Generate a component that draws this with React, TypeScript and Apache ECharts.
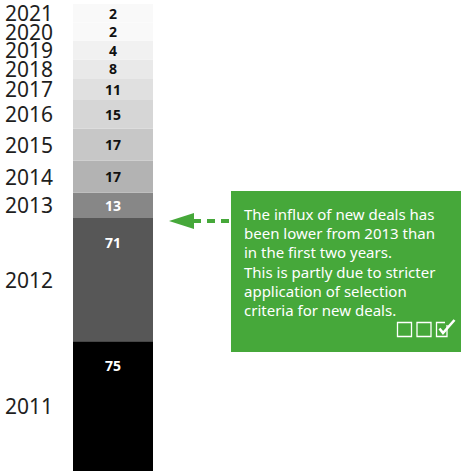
import React, { useEffect, useRef } from "react";
import * as echarts from "echarts";

// ---- data ----
const years = ["2011", "2012", "2013", "2014", "2015", "2016", "2017", "2018", "2019", "2020", "2021"];
const newDeals = [75, 71, 13, 17, 17, 15, 11, 8, 4, 2, 2];
const segmentColors = ["#000000", "#575757", "#878787", "#b3b3b3", "#c7c7c7", "#d6d6d6", "#e0e0e0", "#e9e9e9", "#f1f1f1", "#f9f9f9", "#f9f9f9"];
const valueLabelColors = ["#ffffff", "#ffffff", "#ffffff", "#111111", "#111111", "#111111", "#111111", "#111111", "#111111", "#111111", "#111111"];
const noteLines = [
  "The influx of new deals has",
  "been lower from 2013 than",
  "in the first two years.",
  "This is partly due to stricter",
  "application of selection",
  "criteria for new deals.",
];

// layout rule: every segment gets a little padding and a minimum visible size so its label fits
const SEGMENT_PAD = 2;
const MIN_SEGMENT = 11;
const GREEN = "#46a83a";

export default function App() {
  const ref = useRef<HTMLDivElement>(null);
  useEffect(() => {
    if (!ref.current) return;
    const chart = echarts.init(ref.current, null, { renderer: "svg" });
    let acc = 0;
    const rows = newDeals.map((v, i) => {
      const shown = Math.max(v + SEGMENT_PAD, MIN_SEGMENT);
      const row = [0, acc, acc + shown, v, i];
      acc += shown;
      return row;
    });
    const total = acc;

    const checkY = 322;
    const option: any = {
      animation: false,
      grid: { left: 73, top: 4, width: 80, bottom: 0, containLabel: false },
      xAxis: { type: "category", data: ["deals"], show: false },
      yAxis: { type: "value", min: 0, max: total, show: false },
      series: [
        {
          type: "custom",
          encode: { x: 0, y: [1, 2] },
          data: rows,
          renderItem: (params: any, api: any) => {
            const start = api.value(1);
            const end = api.value(2);
            const val = api.value(3);
            const idx = api.value(4);
            const p0 = api.coord([0, start]);
            const p1 = api.coord([0, end]);
            const bw = api.size([1, 0])[0];
            const x = p0[0] - bw / 2;
            const yTop = p1[1];
            const h = p0[1] - p1[1];
            const cy = yTop + h / 2;
            const valueY = h > 60 ? yTop + 24 : cy;
            return {
              type: "group",
              children: [
                {
                  type: "rect",
                  shape: { x, y: yTop, width: bw, height: h },
                  style: { fill: segmentColors[idx] },
                },
                {
                  type: "text",
                  style: {
                    text: String(val),
                    x: p0[0],
                    y: valueY,
                    align: "center",
                    verticalAlign: "middle",
                    fill: valueLabelColors[idx],
                    fontSize: 14,
                    fontWeight: "bold",
                    fontFamily: "Noto Sans",
                  },
                },
                {
                  type: "text",
                  style: {
                    text: years[idx],
                    x: 5,
                    y: cy,
                    align: "left",
                    verticalAlign: "middle",
                    fill: "#1e1e1e",
                    fontSize: 21,
                    fontFamily: "Noto Sans",
                  },
                },
              ],
            };
          },
        },
      ],
      graphic: [
        {
          type: "rect",
          shape: { x: 231, y: 191, width: 232, height: 161 },
          style: { fill: GREEN },
        },
        {
          type: "text",
          style: {
            text: noteLines.join("\n"),
            x: 244,
            y: 204,
            fill: "#ffffff",
            fontSize: 15,
            lineHeight: 19.3,
            fontFamily: "Noto Sans",
            align: "left",
            verticalAlign: "top",
          },
        },
        {
          type: "polygon",
          shape: { points: [[169, 221], [194, 213], [194, 229]] },
          style: { fill: GREEN },
        },
        {
          type: "line",
          shape: { x1: 193, y1: 221, x2: 231, y2: 221 },
          style: { stroke: GREEN, lineWidth: 4, lineDash: [8, 6] },
        },
        {
          type: "rect",
          shape: { x: 397.5, y: checkY + 0.5, width: 14, height: 14 },
          style: { fill: "none", stroke: "#ffffff", lineWidth: 1.3 },
        },
        {
          type: "rect",
          shape: { x: 417, y: checkY + 0.5, width: 14, height: 14 },
          style: { fill: "none", stroke: "#ffffff", lineWidth: 1.3 },
        },
        {
          type: "polyline",
          shape: { points: [[447, 325], [447, 336.5], [436.5, 336.5], [436.5, 322.5], [445, 322.5]] },
          style: { fill: "none", stroke: "#ffffff", lineWidth: 1.3 },
        },
        {
          type: "polyline",
          shape: { points: [[439.5, 328.5], [443, 333], [454.5, 320]] },
          style: { fill: "none", stroke: "#ffffff", lineWidth: 2.6 },
        },
      ],
    };
    chart.setOption(option);
    return () => chart.dispose();
  }, []);
  return (
    <div
      ref={ref}
      style={{ position: "fixed", left: 0, top: 0, width: 461, height: 471, background: "#ffffff" }}
    />
  );
}
